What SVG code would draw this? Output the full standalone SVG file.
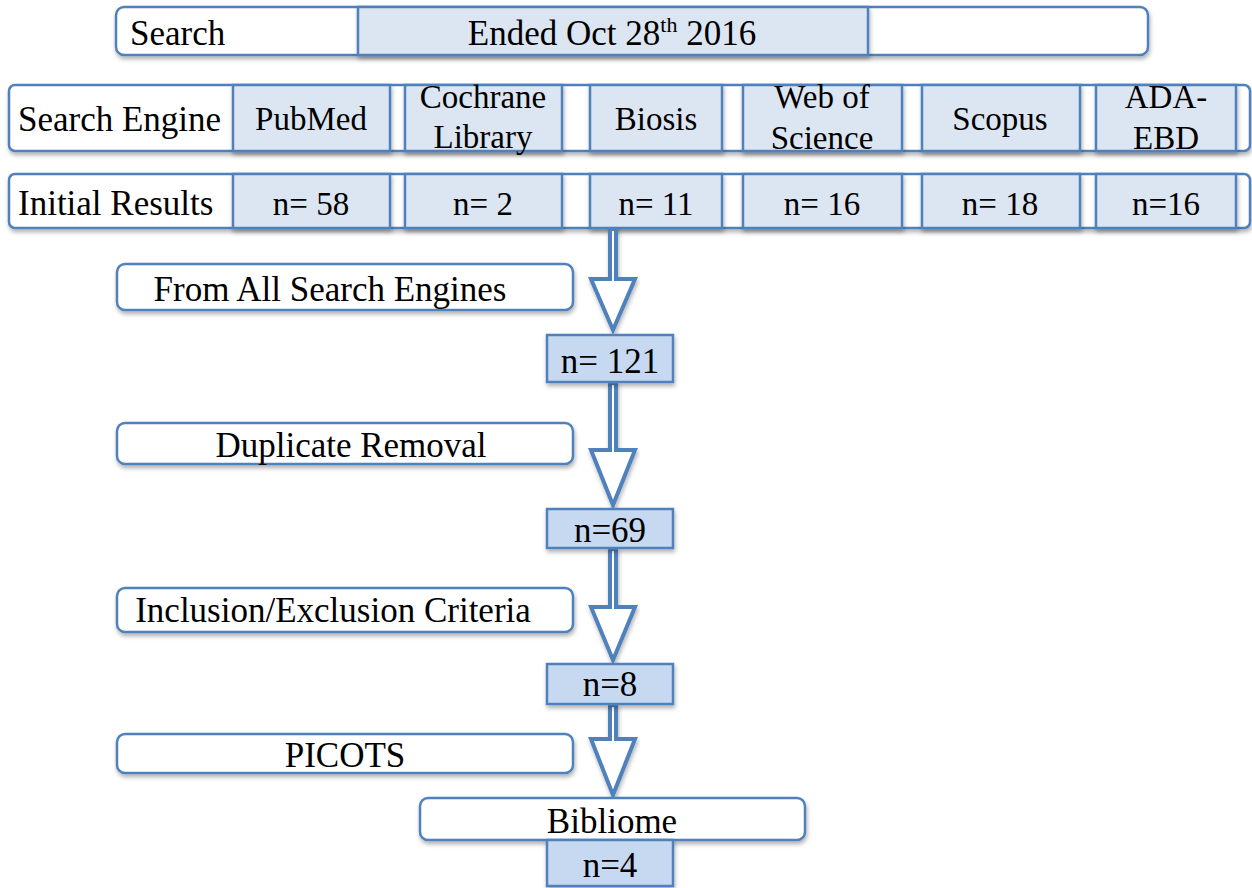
<svg xmlns="http://www.w3.org/2000/svg" width="1252" height="888" viewBox="0 0 1252 888">
<defs>
<filter id="sh" x="-10%" y="-20%" width="120%" height="160%">
<feDropShadow dx="1" dy="3" stdDeviation="2" flood-color="#000" flood-opacity="0.3"/>
</filter>
</defs>
<style>
.frame{fill:#fff;stroke:#4f81bd;stroke-width:2.5}
.cell{fill:#dce6f2;stroke:#4f81bd;stroke-width:2.5;filter:url(#sh)}
.nbox{fill:#c6d9f1;stroke:#4f81bd;stroke-width:2.5;filter:url(#sh)}
.lbl{fill:#fff;stroke:#4f81bd;stroke-width:2.5;filter:url(#sh)}
.arrow{fill:#fff;stroke:#4f81bd;stroke-width:4;stroke-linejoin:miter;filter:url(#sh)}
text{font-family:"Liberation Serif","Times New Roman",serif;font-size:35px;fill:#000}
.t{font-size:33px}
.c{text-anchor:middle}
</style>
<rect width="1252" height="888" fill="#fff"/>

<g id="search-row">
<rect class="frame" x="116" y="7" width="1032" height="48" rx="8" filter="url(#sh)"/>
<rect class="cell" x="358" y="7" width="510" height="48"/>
<text x="130" y="45">Search</text>
<text class="c" x="612" y="45">Ended Oct 28<tspan font-size="22" dy="-13">th</tspan><tspan dy="13"> 2016</tspan></text>
</g>

<g id="engine-row">
<rect class="frame" x="9" y="85" width="1241" height="66" rx="6" filter="url(#sh)"/>
<text x="18" y="131" font-size="34.5">Search Engine</text>
<rect class="cell" x="233" y="85" width="157" height="66"/>
<text class="c t" x="311" y="130">PubMed</text>
<rect class="cell" x="405" y="85" width="157" height="66"/>
<text class="c t" x="483" y="108">Cochrane</text>
<text class="c t" x="483" y="148">Library</text>
<rect class="cell" x="590" y="85" width="132" height="66"/>
<text class="c t" x="656" y="130">Biosis</text>
<rect class="cell" x="743" y="85" width="159" height="66"/>
<text class="c t" x="822" y="108">Web of</text>
<text class="c t" x="822" y="149">Science</text>
<rect class="cell" x="922" y="85" width="158" height="66"/>
<text class="c t" x="1000" y="130">Scopus</text>
<rect class="cell" x="1096" y="85" width="140" height="66"/>
<text class="c t" x="1166" y="108">ADA-</text>
<text class="c t" x="1166" y="149">EBD</text>
</g>

<g id="results-row">
<rect class="frame" x="9" y="174" width="1241" height="54" rx="6" filter="url(#sh)"/>
<text x="18" y="215" font-size="34.5">Initial Results</text>
<rect class="cell" x="233" y="174" width="157" height="54"/>
<text class="c t" x="311" y="215">n= 58</text>
<rect class="cell" x="405" y="174" width="157" height="54"/>
<text class="c t" x="483" y="215">n= 2</text>
<rect class="cell" x="590" y="174" width="132" height="54"/>
<text class="c t" x="656" y="215">n= 11</text>
<rect class="cell" x="743" y="174" width="159" height="54"/>
<text class="c t" x="822" y="215">n= 16</text>
<rect class="cell" x="922" y="174" width="158" height="54"/>
<text class="c t" x="1000" y="215">n= 18</text>
<rect class="cell" x="1096" y="174" width="140" height="54"/>
<text class="c t" x="1166" y="215">n=16</text>
</g>

<g id="connectors">
<polygon class="arrow" points="610,229 616,229 616,279 635,279 613,330 591,279 610,279"/>
<polygon class="arrow" points="610,383 616,383 616,450 635,450 613,505 591,450 610,450"/>
<polygon class="arrow" points="610,549 616,549 616,607 635,607 613,660 591,607 610,607"/>
<polygon class="arrow" points="610,705 616,705 616,739 635,739 613,795 591,739 610,739"/>
</g>

<g id="from-all">
<rect class="lbl" x="117" y="264" width="456" height="46" rx="8"/>
<text class="c" x="330" y="301">From All Search Engines</text>
</g>
<g id="n121">
<rect class="nbox" x="547" y="335" width="126" height="47"/>
<text class="c" x="610" y="373">n= 121</text>
</g>

<g id="duplicate">
<rect class="lbl" x="117" y="423" width="456" height="41" rx="8"/>
<text class="c" x="351" y="457">Duplicate Removal</text>
</g>
<g id="n69">
<rect class="nbox" x="547" y="509" width="126" height="39"/>
<text class="c" x="610" y="542">n=69</text>
</g>

<g id="inclusion">
<rect class="lbl" x="117" y="588" width="456" height="44" rx="8"/>
<text class="c" x="333" y="622">Inclusion/Exclusion Criteria</text>
</g>
<g id="n8">
<rect class="nbox" x="547" y="664" width="126" height="40"/>
<text class="c" x="610" y="696">n=8</text>
</g>

<g id="picots">
<rect class="lbl" x="117" y="734" width="456" height="39" rx="8"/>
<text class="c" x="345" y="767">PICOTS</text>
</g>
<g id="bibliome">
<rect class="lbl" x="420" y="798" width="385" height="42" rx="8"/>
<text class="c" x="612" y="833">Bibliome</text>
</g>
<g id="n4">
<rect class="nbox" x="547" y="840" width="126" height="46"/>
<text class="c" x="610" y="877">n=4</text>
</g>
</svg>
